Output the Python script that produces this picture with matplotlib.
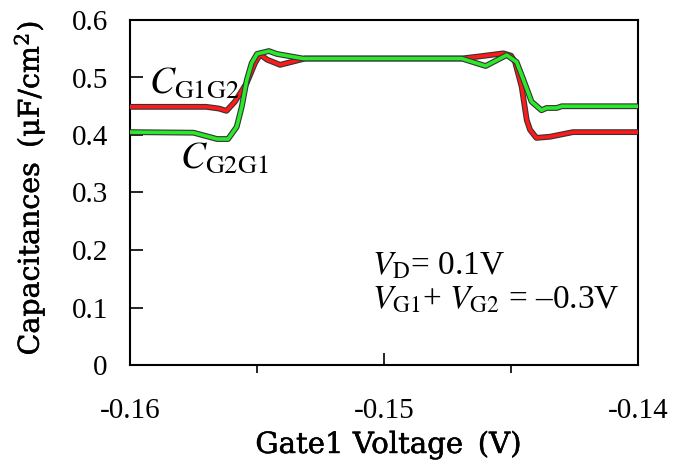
import matplotlib.pyplot as plt
import matplotlib.patheffects as pe
from matplotlib.ticker import MultipleLocator

plt.rcParams['font.family'] = 'Liberation Serif'
plt.rcParams['mathtext.fontset'] = 'stix'

# C_G1G2 (red)
x_red = [-0.1600, -0.1570, -0.1565, -0.1562, -0.15587, -0.15541, -0.15508, -0.15488,
         -0.1546, -0.15409, -0.15311, -0.14694, -0.1460, -0.1453, -0.1450, -0.14484,
         -0.14458, -0.14438, -0.14425, -0.1440, -0.14346, -0.14256, -0.1400]
y_red = [0.449, 0.449, 0.446, 0.442, 0.458, 0.490, 0.525, 0.540,
         0.531, 0.522, 0.533, 0.533, 0.538, 0.542, 0.538, 0.527,
         0.484, 0.426, 0.409, 0.395, 0.397, 0.405, 0.405]

# C_G2G1 (green)
x_green = [-0.1600, -0.1575, -0.15657, -0.15614, -0.1558, -0.1556, -0.1554, -0.15521,
           -0.1550, -0.15453, -0.15422, -0.15319, -0.14694, -0.1460, -0.14517, -0.14478,
           -0.14451, -0.14419, -0.1438, -0.1436, -0.1432, -0.1430, -0.1400]
y_green = [0.405, 0.404, 0.393, 0.393, 0.414, 0.449, 0.496, 0.525,
           0.541, 0.546, 0.541, 0.533, 0.533, 0.520, 0.539, 0.527,
           0.496, 0.458, 0.443, 0.447, 0.447, 0.450, 0.450]

fig = plt.figure(figsize=(6.81, 4.61), dpi=100)
ax = fig.add_axes([130 / 681, 96 / 461, 508 / 681, 345 / 461])

outline = [pe.Stroke(linewidth=4.2, foreground='#333333'), pe.Normal()]
ax.plot(x_red, y_red, color='#ff1a1a', lw=2.6, path_effects=outline, zorder=3)
ax.plot(x_green, y_green, color='#2ae82a', lw=2.6, path_effects=outline, zorder=4)

ax.set_xlim(-0.16, -0.14)
ax.set_ylim(0, 0.6)
ax.xaxis.set_minor_locator(MultipleLocator(0.005))
ax.set_xticks([-0.16, -0.15, -0.14])
ax.set_xticklabels(['-0.16', '-0.15', '-0.14'])
ax.set_yticks([0, 0.1, 0.2, 0.3, 0.4, 0.5, 0.6])
ax.set_yticklabels(['0', '0.1', '0.2', '0.3', '0.4', '0.5', '0.6'])
ax.tick_params(axis='both', direction='in', labelsize=21, width=1.2)
ax.tick_params(axis='x', which='major', length=9, pad=24)
ax.tick_params(axis='x', which='minor', length=6, width=1.2)
ax.tick_params(axis='y', length=9, pad=16)
for s in ax.spines.values():
    s.set_linewidth(1.5)

thick = [pe.withStroke(linewidth=0.35, foreground='black')]
ax.set_xlabel('Gate1 Voltage\u2002(V)', fontsize=21, family='DejaVu Serif',
              va='baseline', path_effects=thick)
ax.xaxis.set_label_coords(0.509, -0.255)
ax.set_ylabel('Capacitances\u2002(μF/cm$^\\mathregular{2}$)', fontsize=20.5,
              family='DejaVu Serif', path_effects=thick)
ax.yaxis.set_label_coords(-0.163, 0.513)

ax.text(-0.15925, 0.473, r'$C_{\mathrm{G1G2}}$', fontsize=27)
ax.text(-0.15803, 0.343, r'$C_{\mathrm{G2G1}}$', fontsize=27)
ax.text(-0.15048, 0.157, r'$V_{\mathrm{D}}$= 0.1V', fontsize=24)
ax.text(-0.15048, 0.099, r'$V_{\mathrm{G1}}$+ $V_{\mathrm{G2}}$ = –0.3V', fontsize=24)

plt.savefig('out.png', dpi=100)
